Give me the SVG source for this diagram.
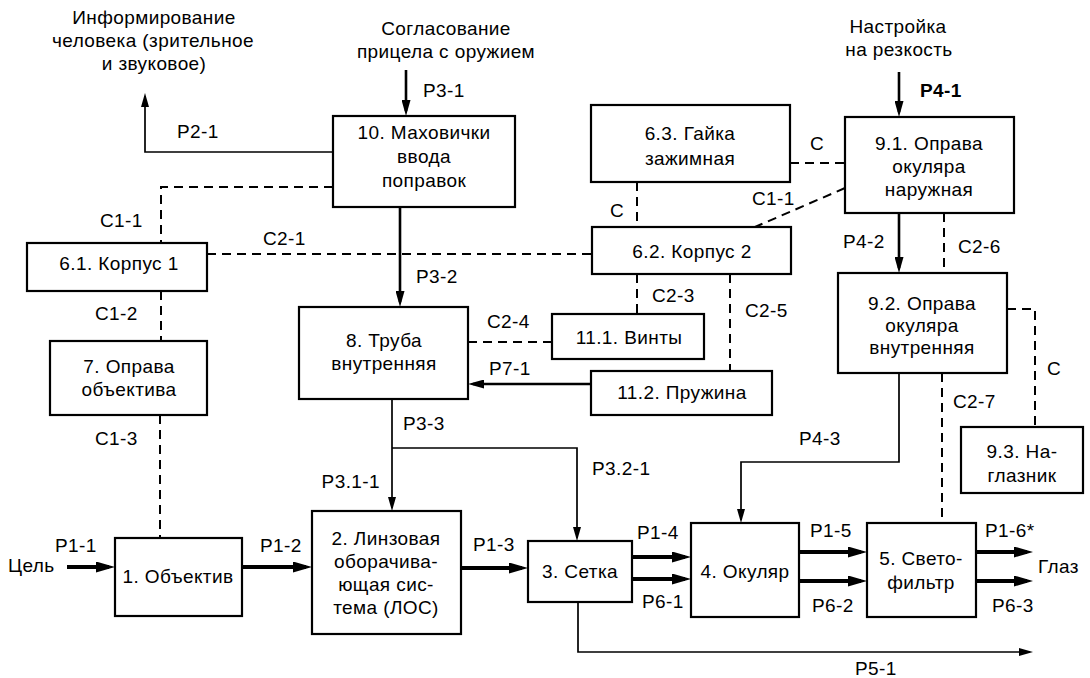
<svg xmlns="http://www.w3.org/2000/svg" width="1090" height="678" viewBox="0 0 1090 678">
<style>
text{font-family:"Liberation Sans",Arial,sans-serif;font-size:19px;letter-spacing:0.4px;fill:#000}
.c{text-anchor:middle}
.b{font-weight:bold}
rect{fill:#fff;stroke:#000;stroke-width:2.2}
.ln{fill:none;stroke:#000;stroke-width:1.7}
.md{fill:none;stroke:#000;stroke-width:2.6}
.tk{fill:none;stroke:#000;stroke-width:4.2}
.ds{fill:none;stroke:#000;stroke-width:2;stroke-dasharray:9 6}
</style>
<defs>
<marker id="at" viewBox="0 0 14 8" refX="11" refY="4" markerWidth="14" markerHeight="8" markerUnits="userSpaceOnUse" orient="auto"><path d="M0,0 L14,4 L0,8 z"/></marker>
<marker id="am" viewBox="0 0 16 9" refX="11" refY="4.5" markerWidth="16" markerHeight="9" markerUnits="userSpaceOnUse" orient="auto"><path d="M0,0 L16,4.5 L0,9 z"/></marker>
<marker id="ak" viewBox="0 0 19 11" refX="13" refY="5.5" markerWidth="19" markerHeight="11" markerUnits="userSpaceOnUse" orient="auto"><path d="M0,0 L19,5.5 L0,11 z"/></marker>
</defs>

<g id="connectors">
<!-- thin arrows -->
<path class="ln" d="M333,152 H145 V96" marker-end="url(#at)"/>
<path class="md" d="M406,70 V111" marker-end="url(#am)"/>
<path class="md" d="M400,207 V302" marker-end="url(#am)"/>
<path class="ln" d="M392,399 V508" marker-end="url(#at)"/>
<path class="ln" d="M392,448 H577 V538" marker-end="url(#at)"/>
<path class="ln" d="M899,373 V462 H741 V520" marker-end="url(#at)"/>
<path class="ln" d="M578,602 V652 H1030" marker-end="url(#at)"/>
<path class="md" d="M591,384 H473" marker-end="url(#am)"/>
<path class="md" d="M899,72 V112" marker-end="url(#am)"/>
<path class="md" d="M899,213 V268" marker-end="url(#am)"/>
<!-- thick flow arrows -->
<path class="tk" d="M67,567 H109" marker-end="url(#ak)"/>
<path class="tk" d="M242,567 H306" marker-end="url(#ak)"/>
<path class="tk" d="M461,568 H522" marker-end="url(#ak)"/>
<path class="tk" d="M632,557 H685" marker-end="url(#ak)"/>
<path class="tk" d="M632,579 H685" marker-end="url(#ak)"/>
<path class="tk" d="M799,552 H861" marker-end="url(#ak)"/>
<path class="tk" d="M799,581 H861" marker-end="url(#ak)"/>
<path class="tk" d="M976,552 H1027" marker-end="url(#ak)"/>
<path class="tk" d="M976,581 H1027" marker-end="url(#ak)"/>
<!-- dashed connections -->
<path class="ds" d="M333,187 H161 V243"/>
<path class="ds" d="M161,291 V341"/>
<path class="ds" d="M160,415 V538"/>
<path class="ds" d="M207,254 H592"/>
<path class="ds" d="M637,182 V227"/>
<path class="ds" d="M790,163 H845"/>
<path class="ds" d="M845,188 L755,227"/>
<path class="ds" d="M637,274 V314"/>
<path class="ds" d="M730,274 V371"/>
<path class="ds" d="M468,342 H552"/>
<path class="ds" d="M944,213 V273"/>
<path class="ds" d="M1007,309 H1035 V427"/>
<path class="ds" d="M942,373 V523"/>
</g>

<g id="labels">
<text class="c" x="154" y="24">Информирование</text>
<text class="c" x="153" y="47">человека (зрительное</text>
<text class="c" x="154" y="70">и звуковое)</text>
<text class="c" x="446" y="35">Согласование</text>
<text class="c" x="446" y="58">прицела с оружием</text>
<text class="c" x="898" y="33">Настройка</text>
<text class="c" x="899" y="56">на резкость</text>
<text x="177" y="138">Р2-1</text>
<text x="423" y="97">Р3-1</text>
<text class="b" x="920" y="97">Р4-1</text>
<text x="810" y="150">С</text>
<text x="752" y="205">С1-1</text>
<text x="610" y="217">С</text>
<text x="100" y="227">С1-1</text>
<text x="263" y="245">С2-1</text>
<text x="416" y="283">Р3-2</text>
<text x="652" y="302">С2-3</text>
<text x="843" y="248">Р4-2</text>
<text x="958" y="253">С2-6</text>
<text x="95" y="320">С1-2</text>
<text x="745" y="317">С2-5</text>
<text x="487" y="328">С2-4</text>
<text x="489" y="375">Р7-1</text>
<text x="1047" y="375">С</text>
<text x="953" y="408">С2-7</text>
<text x="403" y="430">Р3-3</text>
<text x="95" y="445">С1-3</text>
<text x="799" y="445">Р4-3</text>
<text x="592" y="475">Р3.2-1</text>
<text x="380" y="488" style="text-anchor:end">Р3.1-1</text>
<text x="55" y="552">Р1-1</text>
<text x="260" y="552">Р1-2</text>
<text x="473" y="551">Р1-3</text>
<text x="637" y="539">Р1-4</text>
<text x="642" y="608">Р6-1</text>
<text x="810" y="537">Р1-5</text>
<text x="812" y="612">Р6-2</text>
<text x="985" y="537">Р1-6*</text>
<text x="992" y="612">Р6-3</text>
<text x="1038" y="573">Глаз</text>
<text x="8" y="572">Цель</text>
<text x="855" y="675">Р5-1</text>
</g>

<g id="n10"><rect x="333" y="116" width="182" height="91"/>
<text class="c" x="424" y="139">10. Маховички</text><text class="c" x="424" y="163">ввода</text><text class="c" x="424" y="187">поправок</text></g>
<g id="n6_3"><rect x="591" y="105" width="199" height="77"/>
<text class="c" x="690" y="140">6.3. Гайка</text><text class="c" x="690" y="165">зажимная</text></g>
<g id="n9_1"><rect x="845" y="117" width="169" height="96"/>
<text class="c" x="929" y="150">9.1. Оправа</text><text class="c" x="929" y="173">окуляра</text><text class="c" x="929" y="196">наружная</text></g>
<g id="n6_1"><rect x="27" y="243" width="180" height="48"/>
<text class="c" x="119" y="270">6.1. Корпус 1</text></g>
<g id="n6_2"><rect x="592" y="227" width="199" height="47"/>
<text class="c" x="692" y="258">6.2. Корпус 2</text></g>
<g id="n7"><rect x="50" y="341" width="157" height="74"/>
<text class="c" x="129" y="373">7. Оправа</text><text class="c" x="129" y="396">объектива</text></g>
<g id="n8"><rect x="299" y="307" width="169" height="92"/>
<text class="c" x="384" y="347">8. Труба</text><text class="c" x="384" y="370">внутренняя</text></g>
<g id="n11_1"><rect x="552" y="314" width="152" height="45"/>
<text class="c" x="629" y="344">11.1. Винты</text></g>
<g id="n11_2"><rect x="591" y="371" width="181" height="44"/>
<text class="c" x="682" y="399">11.2. Пружина</text></g>
<g id="n9_2"><rect x="838" y="273" width="169" height="100"/>
<text class="c" x="922" y="310">9.2. Оправа</text><text class="c" x="922" y="332">окуляра</text><text class="c" x="922" y="354">внутренняя</text></g>
<g id="n9_3"><rect x="961" y="427" width="122" height="66"/>
<text class="c" x="1022" y="458">9.3. На-</text><text class="c" x="1022" y="482">глазник</text></g>
<g id="n1"><rect x="115" y="538" width="127" height="78"/>
<text class="c" x="178" y="583">1. Объектив</text></g>
<g id="n2"><rect x="312" y="511" width="149" height="123"/>
<text class="c" x="386" y="545">2. Линзовая</text><text class="c" x="386" y="568">оборачива-</text><text class="c" x="386" y="591">ющая сис-</text><text class="c" x="386" y="614">тема (ЛОС)</text></g>
<g id="n3"><rect x="528" y="541" width="104" height="61"/>
<text class="c" x="580" y="578">3. Сетка</text></g>
<g id="n4"><rect x="691" y="523" width="108" height="94"/>
<text class="c" x="745" y="578">4. Окуляр</text></g>
<g id="n5"><rect x="867" y="523" width="109" height="94"/>
<text class="c" x="921" y="565">5. Свето-</text><text class="c" x="921" y="589">фильтр</text></g>
</svg>
